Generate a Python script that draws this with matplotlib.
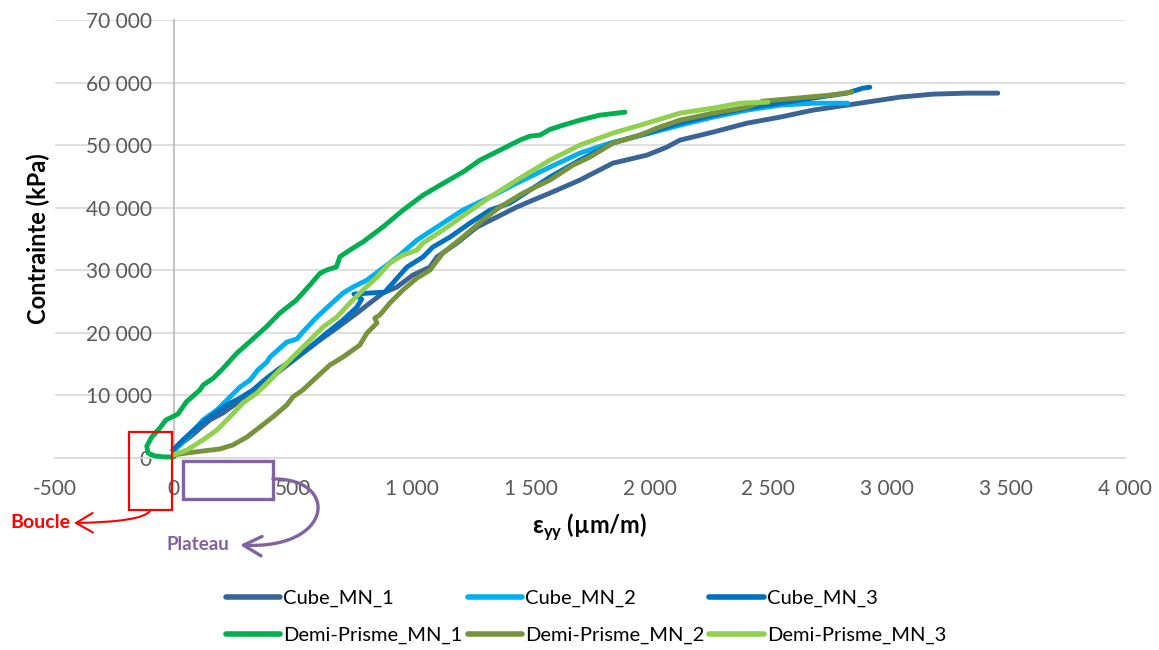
import numpy as np
import matplotlib
matplotlib.use("Agg")
import matplotlib.pyplot as plt
from matplotlib.patches import Rectangle, FancyArrowPatch
from matplotlib.path import Path
from matplotlib.transforms import Affine2D
from matplotlib.ticker import FuncFormatter, MultipleLocator

plt.rcParams['font.family'] = ['Lato', 'DejaVu Sans']
plt.rcParams['mathtext.fontset'] = 'custom'
plt.rcParams['mathtext.rm'] = 'Lato'
plt.rcParams['mathtext.bf'] = 'Lato:bold'

W, H = 1159, 650

# strain (µm/m), stress (kPa)
cube1_x = [-4, 67, 151, 206, 265, 320, 374, 433, 488, 542, 614, 685, 770, 824, 879, 938, 1005, 1077,
           1106, 1190, 1274, 1358, 1442, 1510, 1581, 1707, 1846, 1989, 2073, 2128, 2267, 2410, 2548,
           2687, 2830, 2969, 3053, 3192, 3335, 3465]
cube1_y = [1280, 3350, 6070, 7190, 8790, 9740, 11340, 13580, 15180, 16770, 18850, 20770, 23160, 24760,
           26360, 27320, 29230, 30510, 32110, 34340, 36900, 38500, 40100, 41210, 42330, 44410, 47120,
           48400, 49680, 50800, 52080, 53510, 54470, 55590, 56390, 57190, 57670, 58150, 58310, 58310]

cube2_x = [4, 67, 122, 181, 223, 278, 320, 353, 391, 404, 475, 517, 542, 601, 656, 711, 753, 812, 879,
           950, 1022, 1106, 1215, 1329, 1442, 1581, 1707, 1833, 2002, 2128, 2267, 2410, 2548, 2687, 2834]
cube2_y = [1280, 3670, 6070, 7670, 9260, 11340, 12460, 14060, 15340, 16130, 18530, 19010, 20130, 22520,
           24440, 26360, 27320, 28430, 30350, 32430, 34820, 36900, 39620, 41690, 43930, 46480, 48720,
           50320, 51920, 53190, 54470, 55590, 56390, 56700, 56700]

cube3_x = [-4, 38, 97, 151, 223, 278, 332, 391, 446, 500, 572, 643, 711, 770, 790, 757, 887, 917, 980,
           1047, 1089, 1161, 1245, 1329, 1413, 1497, 1581, 1707, 1846, 1989, 2128, 2267, 2410, 2548,
           2687, 2830, 2897, 2927]
cube3_y = [1280, 2880, 4950, 6550, 8470, 9580, 10860, 12780, 14380, 15650, 17730, 19970, 22040, 24120,
           25400, 26200, 26520, 27800, 30510, 32110, 33710, 35300, 37540, 39620, 40730, 42810, 44890,
           47600, 50320, 51920, 53510, 54790, 55910, 56710, 57510, 58310, 59100, 59260]

dp1_x = [0, -38, -80, -109, -114, -93, -59, -34, -8, 17, 53, 109, 123, 165, 207, 264, 319, 389, 444,
         515, 572, 614, 642, 684, 698, 740, 796, 824, 880, 964, 1048, 1132, 1217, 1287, 1357, 1455,
         1497, 1539, 1581, 1623, 1707, 1791, 1897]
dp1_y = [160, 160, 320, 800, 1900, 3350, 4800, 6070, 6550, 7030, 8990, 10860, 11660, 12730, 14330,
         16720, 18580, 20970, 23110, 25240, 27640, 29500, 30030, 30560, 32160, 33230, 34550, 35350,
         36950, 39620, 42010, 43880, 45740, 47600, 48930, 50800, 51440, 51600, 52500, 53030, 53990,
         54790, 55270]

dp2_x = [-4, 55, 122, 193, 248, 307, 362, 416, 475, 500, 542, 601, 656, 711, 782, 812, 854, 845, 866,
         908, 963, 1022, 1077, 1131, 1215, 1299, 1371, 1468, 1581, 1678, 1749, 1846, 1960, 2031, 2128,
         2267, 2410, 2477, 2620, 2759, 2851]
dp2_y = [480, 800, 1120, 1440, 2080, 3350, 4950, 6550, 8470, 9740, 10860, 12940, 14860, 16130, 18050,
         19970, 21570, 22360, 22840, 24760, 26840, 28750, 30030, 32750, 35300, 38020, 40100, 42330,
         44410, 46800, 48080, 50320, 51600, 52720, 53990, 55110, 56070, 57030, 57510, 57990, 58470]

dp3_x = [-4, 55, 122, 181, 235, 290, 349, 404, 458, 517, 572, 627, 685, 740, 795, 854, 908, 963, 1022,
         1047, 1131, 1232, 1329, 1442, 1581, 1707, 1846, 1989, 2128, 2267, 2380, 2498]
dp3_y = [480, 1280, 2880, 4470, 6550, 8790, 10380, 12460, 14540, 16770, 18850, 20930, 22520, 24760,
         26840, 28910, 31150, 32430, 33230, 34340, 36420, 39140, 41690, 44410, 47600, 50000, 51920,
         53510, 55110, 55910, 56710, 56870]

series = [
    ("Cube_MN_1", cube1_x, cube1_y, "#3A6496"),
    ("Cube_MN_2", cube2_x, cube2_y, "#00B0F0"),
    ("Cube_MN_3", cube3_x, cube3_y, "#0070C0"),
    ("Demi-Prisme_MN_1", dp1_x, dp1_y, "#00B050"),
    ("Demi-Prisme_MN_2", dp2_x, dp2_y, "#77933C"),
    ("Demi-Prisme_MN_3", dp3_x, dp3_y, "#92D050"),
]

fig = plt.figure(figsize=(W / 100, H / 100), dpi=100)
ax = fig.add_axes([55 / W, 1 - 458 / H, (1125 - 55) / W, (458 - 20) / H])

lines = {}
for name, xs, ys, col in series:
    ln, = ax.plot(xs, ys, color=col, lw=3.5, label=name, solid_capstyle='round',
                  solid_joinstyle='round', zorder=3, clip_on=False)
    lines[name] = ln

ax.set_xlim(-500, 4000)
ax.set_ylim(0, 70000)
ax.xaxis.set_major_locator(MultipleLocator(500))
ax.yaxis.set_major_locator(MultipleLocator(10000))
fmt = FuncFormatter(lambda v, p: f"{v:,.0f}".replace(",", " "))
ax.xaxis.set_major_formatter(fmt)
ax.yaxis.set_major_formatter(fmt)

ax.grid(axis='y', color='#d9d9d9', lw=1.2)
ax.set_axisbelow(True)
for s in ['top', 'right']:
    ax.spines[s].set_visible(False)
ax.spines['left'].set_position(('data', 0))
ax.spines['left'].set_color('#bfbfbf')
ax.spines['left'].set_linewidth(1.3)
ax.spines['bottom'].set_position(('data', 0))
ax.spines['bottom'].set_color('#d9d9d9')
ax.spines['bottom'].set_linewidth(1.2)
ax.tick_params(axis='both', length=0, labelsize=15, labelcolor='#595959')
ax.tick_params(axis='y', pad=16)
ax.tick_params(axis='x', pad=15)

fig.text(38 / W, 1 - 239 / H, "Contrainte (kPa)", rotation=90, ha='center', va='center',
         fontsize=17, fontweight='bold')
fig.text(590 / W, 1 - 527 / H, r"ε$_{\mathbf{yy}}$ (µm/m)", ha='center', va='center',
         fontsize=17, fontweight='bold')

# annotations
ax.add_patch(Rectangle((-189, -8300), 181, 12450, fill=False, ec='#FF0000', lw=1.6,
                       clip_on=False, zorder=5))
ax.add_patch(Rectangle((38, -6550), 378, 6070, fill=False, ec='#8064A2', lw=2.4,
                       clip_on=False, zorder=5))

pix = Affine2D().scale(1 / W, -1 / H).translate(0, 1) + fig.transFigure
red_path = Path([(150, 511), (142, 522), (74, 523)], [Path.MOVETO, Path.CURVE3, Path.CURVE3])
fig.patches.append(FancyArrowPatch(path=red_path, transform=pix, color='#FF0000', lw=1.5,
                                   arrowstyle='->,head_length=12,head_width=7'))
pur_path = Path([(273, 479), (340, 478), (334, 550), (240, 545)],
                [Path.MOVETO, Path.CURVE4, Path.CURVE4, Path.CURVE4])
fig.patches.append(FancyArrowPatch(path=pur_path, transform=pix, color='#8064A2', lw=2.4,
                                   arrowstyle='->,head_length=13,head_width=7'))
fig.text(70 / W, 1 - 523 / H, "Boucle", color='#FF0000', fontweight='bold', fontsize=14,
         ha='right', va='center')
fig.text(198 / W, 1 - 544 / H, "Plateau", color='#8064A2', fontweight='bold', fontsize=13.5,
         ha='center', va='center')

order = ["Cube_MN_1", "Demi-Prisme_MN_1", "Cube_MN_2", "Demi-Prisme_MN_2",
         "Cube_MN_3", "Demi-Prisme_MN_3"]
leg = fig.legend([lines[n] for n in order], order, ncol=3, loc='center',
                 bbox_to_anchor=(586 / W, 1 - 617 / H), frameon=False, fontsize=14.5,
                 handlelength=2.7, handletextpad=0.15, columnspacing=0.25, labelspacing=0.95)
for h in leg.get_lines():
    h.set_linewidth(4.0)

fig.savefig("out.png", dpi=100)
